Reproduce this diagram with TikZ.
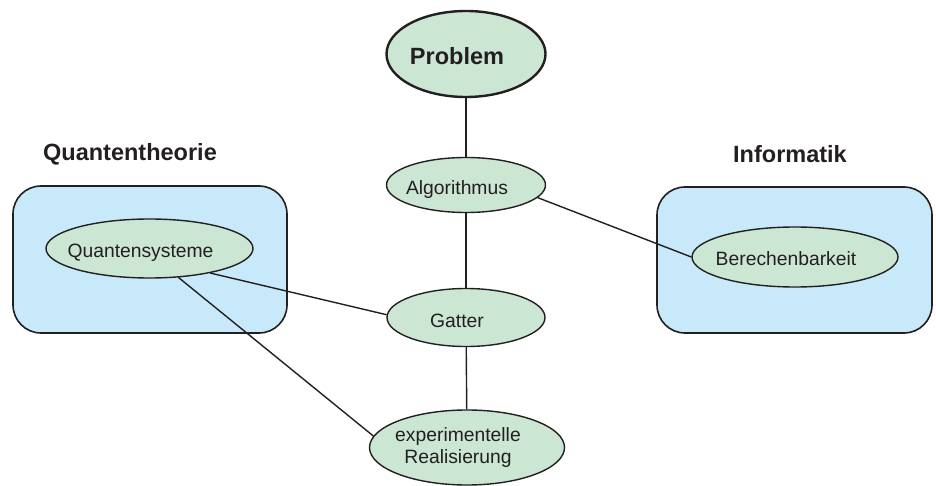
\documentclass[tikz,border=0pt]{standalone}
\usepackage{fontspec}
\setmainfont{Liberation Sans}
\usetikzlibrary{shapes.geometric}
\definecolor{ellfill}{RGB}{204,230,212}
\definecolor{boxfill}{RGB}{199,233,249}
\definecolor{ink}{RGB}{35,31,32}
\newcommand\txtpad[1]{\makebox[0pt]{#1\hspace*{18pt}}}
\begin{document}
\begin{tikzpicture}[x=1pt,y=-1pt,
  ell/.style={ellipse, draw=ink, fill=ellfill, line width=1.4pt, inner sep=0pt,
    font=\fontsize{19.3}{23}\selectfont, text=ink, text height=19pt, text depth=0pt},
  area/.style={draw=ink, fill=boxfill, line width=1.6pt, rounded corners=28pt, inner sep=0pt},
  head/.style={font=\bfseries\fontsize{23.5}{28}\selectfont, text=ink, anchor=base},
  conn/.style={draw=ink, line width=1.4pt}]
\useasboundingbox (0,0) rectangle (936,486);

% container boxes
\node[area, minimum width=274pt, minimum height=147pt] (qt) at (150,259.5) {};
\node[area, minimum width=275pt, minimum height=146pt] (inf) at (794.5,260) {};

% headings
\node[head] (qth) at (130,161) {Quantentheorie};
\node[head] (infh) at (790,163) {Informatik};

% ellipses
\node[ell, line width=2.4pt, minimum width=159pt, minimum height=86pt,
      font=\bfseries\fontsize{23.5}{28}\selectfont, text height=22pt] (P) at (466,54) {\txtpad{Problem}};
\node[ell, minimum width=159pt, minimum height=55pt] (A) at (466,185) {\txtpad{Algorithmus}};
\node[ell, minimum width=158pt, minimum height=58pt] (G) at (466,317.5) {\txtpad{Gatter}};
\node[ell, minimum width=195pt, minimum height=75pt, text height=, text depth=] (E) at (467,447.5)
  {\txtpad{\begin{tabular}{@{}c@{}}experimentelle\\[-1pt]Realisierung\end{tabular}}};
\node[ell, minimum width=207pt, minimum height=59pt] (Q) at (149.5,248.5) {\txtpad{Quantensysteme}};
\node[ell, minimum width=206pt, minimum height=60pt, text height=17pt] (B) at (795,257) {\txtpad{Berechenbarkeit}};

% connectors
\draw[conn] (P) -- (A);
\draw[conn] (A) -- (G);
\draw[conn] (G) -- (E);
\draw[conn] (A.-10) -- (B.180);
\draw[conn] (Q.-22) -- (G.178);
\draw[conn] (Q.-45) -- (E.173);
\end{tikzpicture}
\end{document}
